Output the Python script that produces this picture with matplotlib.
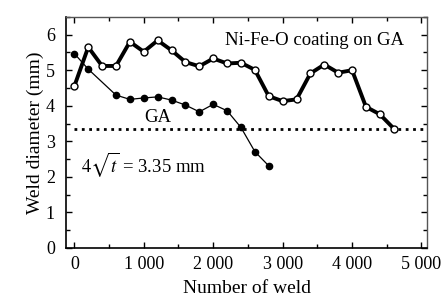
import numpy as np
import matplotlib
matplotlib.use('Agg')
import matplotlib.pyplot as plt
from matplotlib.ticker import MultipleLocator

plt.rcParams['font.family'] = ['Liberation Serif', 'DejaVu Serif']
plt.rcParams['mathtext.fontset'] = 'stix'

# Ni-Fe-O coating on GA (open circles)
coat_x = [0, 200, 400, 600, 800, 1000, 1200, 1400, 1600, 1800, 2000, 2200,
          2400, 2600, 2800, 3000, 3200, 3400, 3600, 3800, 4000, 4200, 4400, 4600]
coat_y = [4.55, 5.65, 5.12, 5.12, 5.80, 5.52, 5.84, 5.56, 5.23, 5.11, 5.33, 5.19,
          5.21, 5.01, 4.27, 4.13, 4.18, 4.91, 5.16, 4.93, 5.00, 3.97, 3.76, 3.36]

# bare GA (filled circles)
ga_x = [0, 200, 600, 800, 1000, 1200, 1400, 1600, 1800, 2000, 2200, 2400, 2600, 2800]
ga_y = [5.47, 5.03, 4.30, 4.18, 4.22, 4.25, 4.16, 4.02, 3.83, 4.04, 3.86, 3.39, 2.71, 2.31]

limit_y = 3.35

fig = plt.figure(figsize=(4.43, 3.02), dpi=100)
ax = fig.add_axes([0.149, 0.179, 0.815, 0.765])

ax.plot(ga_x, ga_y, '-o', color='black', lw=0.9, ms=4.5, zorder=3)
ax.plot(coat_x, coat_y, '-o', color='black', lw=2.8, ms=5,
        mfc='white', mec='black', mew=1.0, zorder=4)
ax.plot([0, 5200], [limit_y, limit_y], ':', color='black', lw=2.0, zorder=2)

ax.set_xlim(-120, 5080)
ax.set_ylim(0, 6.5)
ax.xaxis.set_major_locator(MultipleLocator(1000))
ax.xaxis.set_minor_locator(MultipleLocator(500))
ax.yaxis.set_major_locator(MultipleLocator(1))
ax.yaxis.set_minor_locator(MultipleLocator(0.5))
ax.set_xticks([0, 1000, 2000, 3000, 4000, 5000])
ax.set_xticklabels(['0', '1 000', '2 000', '3 000', '4 000', '5 000'])
ax.tick_params(which='both', direction='in', top=True, right=True, labelsize=13)
ax.tick_params(axis='x', pad=6)
ax.tick_params(axis='y', pad=8)
ax.tick_params(which='major', length=4, width=1)
ax.tick_params(which='minor', length=3, width=1)
for s in ['top', 'right']:
    ax.spines[s].set_color('#555555')
    ax.spines[s].set_linewidth(1.0)
for s in ['left', 'bottom']:
    ax.spines[s].set_linewidth(1.2)

ax.set_xlabel('Number of weld', fontsize=14, labelpad=5)
ax.set_ylabel('Weld diameter (mm)', fontsize=14, labelpad=1)

ax.text(2170, 5.84, 'Ni-Fe-O coating on GA', fontsize=13.5, va='center', ha='left')
ax.text(1200, 3.68, 'GA', fontsize=13.5, va='center', ha='center')
ax.text(100, 2.36, r'$4\sqrt{t}$ = 3.35 mm', fontsize=13.5, va='center', ha='left')

fig.savefig('out.png', dpi=100)
